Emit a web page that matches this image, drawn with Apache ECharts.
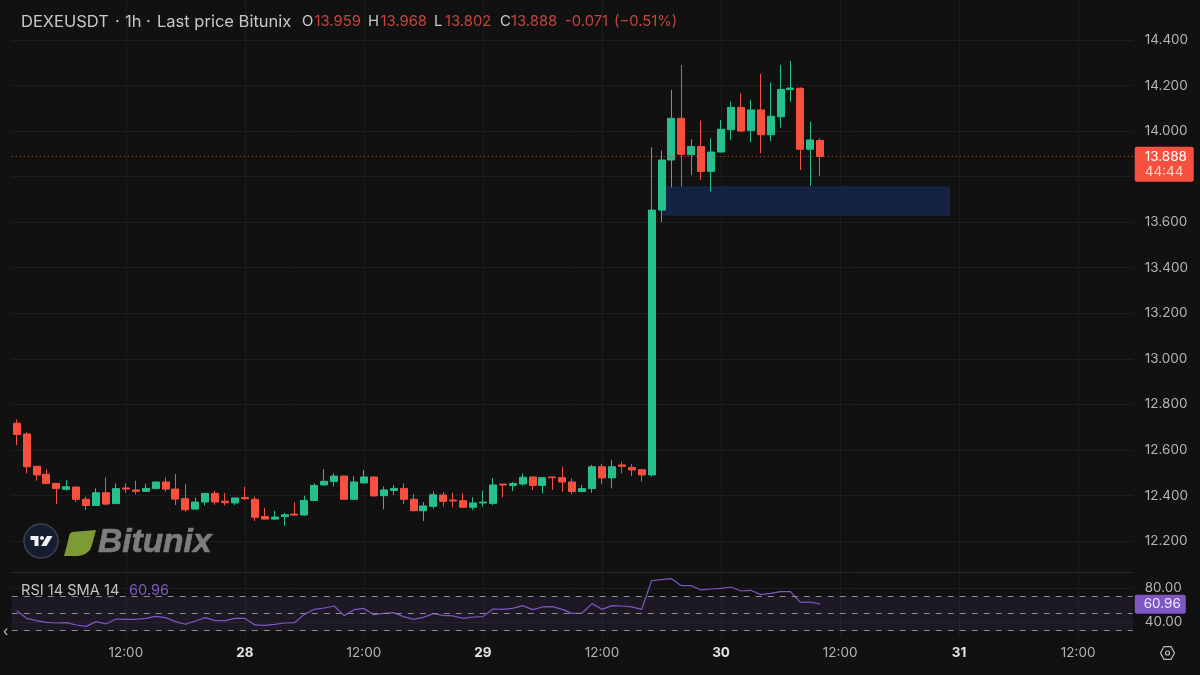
<!DOCTYPE html>
<html><head><meta charset="utf-8">
<style>html,body{margin:0;padding:0;background:#111112}#c{width:1200px;height:675px}</style>
<script src="https://cdn.jsdelivr.net/npm/echarts@6/dist/echarts.min.js"></script>
</head><body><div id="c"></div>
<script>
const opens=[12.717,12.670,12.528,12.493,12.453,12.427,12.437,12.383,12.356,12.412,12.364,12.433,12.424,12.418,12.430,12.459,12.428,12.386,12.340,12.371,12.409,12.375,12.367,12.391,12.383,12.307,12.296,12.307,12.318,12.314,12.378,12.446,12.461,12.485,12.383,12.455,12.481,12.399,12.422,12.431,12.383,12.333,12.352,12.402,12.380,12.377,12.348,12.367,12.365,12.450,12.444,12.450,12.481,12.444,12.481,12.478,12.459,12.417,12.430,12.526,12.477,12.534,12.523,12.513,12.490,13.653,13.873,14.056,13.896,13.932,13.823,13.908,14.006,14.104,14.002,14.093,13.984,14.063,14.183,14.188,13.920,13.959];
const closes=[12.668,12.526,12.490,12.452,12.430,12.438,12.383,12.356,12.412,12.362,12.430,12.428,12.418,12.431,12.459,12.428,12.384,12.337,12.371,12.409,12.371,12.368,12.389,12.386,12.304,12.296,12.305,12.315,12.314,12.378,12.444,12.462,12.485,12.383,12.459,12.481,12.398,12.424,12.431,12.383,12.333,12.354,12.403,12.374,12.376,12.348,12.367,12.371,12.446,12.446,12.452,12.480,12.444,12.478,12.478,12.459,12.417,12.430,12.526,12.477,12.526,12.528,12.512,12.490,13.653,13.873,14.056,13.898,13.932,13.823,13.908,14.008,14.104,14.000,14.093,13.984,14.065,14.183,14.189,13.920,13.961,13.888];
const highs=[12.734,12.677,12.529,12.515,12.453,12.468,12.438,12.394,12.431,12.479,12.453,12.453,12.465,12.452,12.460,12.479,12.494,12.450,12.391,12.411,12.421,12.411,12.391,12.438,12.394,12.346,12.333,12.324,12.370,12.399,12.453,12.515,12.497,12.487,12.485,12.512,12.482,12.439,12.446,12.453,12.406,12.371,12.418,12.415,12.412,12.409,12.392,12.421,12.477,12.450,12.459,12.497,12.482,12.482,12.482,12.526,12.475,12.446,12.534,12.538,12.556,12.548,12.538,12.515,13.929,13.914,14.180,14.290,13.964,14.046,13.968,14.049,14.129,14.166,14.137,14.251,14.214,14.290,14.308,14.192,14.041,13.968];
const lows=[12.621,12.497,12.465,12.450,12.362,12.421,12.372,12.336,12.355,12.356,12.362,12.412,12.405,12.415,12.428,12.416,12.358,12.329,12.339,12.356,12.359,12.356,12.358,12.380,12.288,12.295,12.293,12.267,12.311,12.312,12.377,12.444,12.439,12.381,12.381,12.453,12.395,12.339,12.402,12.362,12.330,12.288,12.342,12.351,12.348,12.346,12.336,12.351,12.357,12.392,12.419,12.443,12.424,12.409,12.424,12.417,12.406,12.415,12.412,12.450,12.431,12.497,12.485,12.462,12.482,13.601,13.753,13.756,13.807,13.785,13.735,13.907,13.961,13.997,13.951,13.902,13.956,14.015,14.129,13.829,13.759,13.802];
const rsiValues=[53.3,44.3,41.6,39.6,38.8,39.2,36.5,34.9,40.4,37.7,43.5,43.1,43.1,44.3,46.7,45.1,40.4,37.3,41.2,45.1,41.6,41.6,44.3,44.3,36.5,36.0,37.3,38.8,39.2,49.0,54.9,56.5,58.8,47.5,54.5,56.0,48.6,50.2,51.0,46.3,43.1,45.5,49.8,47.8,47.1,44.3,45.9,46.3,55.3,54.9,56.0,59.2,54.5,57.7,58.1,54.9,50.2,50.6,61.6,54.9,59.2,58.8,57.7,54.9,88.6,89.8,91.0,82.7,82.7,77.7,78.8,79.6,81.2,76.5,77.3,72.2,73.7,75.7,75.7,63.1,63.5,60.96];
const priceTicks=[12.2,12.4,12.6,12.8,13.0,13.2,13.4,13.6,13.8,14.0,14.2,14.4];
const rsiTicks=[40,80];
const rsiBands=[70,50,30];
const zoneLow=13.631, zoneHigh=13.754, zoneFrom=65, zoneTo=94;
const lastPrice=13.888, countdown='44:44', lastRsi=60.96;

const categories=[];
for(let i=0;i<113;i++){const t=i+1;const day=27+Math.floor(t/24);const hour=t%24;categories.push(day+' '+String(hour).padStart(2,'0')+':00');}
const isTick=i=>{const h=categories[i].slice(-5);return h==='00:00'||h==='12:00';};
const fmtX=(v)=>{const h=v.slice(-5);return h==='12:00'?'12:00':'{d|'+v.slice(0,2)+'}';};

const BG='#111112',GRID='#1d1d1e',UP='#25c08d',DOWN='#f7503f',TXT='#b4b4b4',PUR='#7e57c2';
const FONT='Inter, Roboto, sans-serif';
const cLeft=11.74,cWidth=1121;
const candle=opens.map((o,i)=>[o,closes[i],lows[i],highs[i]]);

const hdrY=22;
const hdr=(x,t,c,s)=>({type:'text',x:x,y:hdrY,style:{text:t,fill:c,font:'400 '+(s||14.8)+'px '+FONT,textVerticalAlign:'middle'},z:50});
const DIM='#c4473a',HT='#c9c9c9';
const chart=echarts.init(document.getElementById('c'),null,{renderer:'canvas'});
chart.setOption({
 animation:false,backgroundColor:BG,
 grid:[{left:cLeft,width:cWidth,top:0,height:572},{left:cLeft,width:cWidth,top:573,height:64}],
 xAxis:[
  {type:'category',gridIndex:0,data:categories,boundaryGap:true,axisLine:{show:true,onZero:false,lineStyle:{color:'#2b2b2d'}},axisTick:{show:false},axisLabel:{show:false},
   splitLine:{show:true,alignWithLabel:true,interval:i=>isTick(i),lineStyle:{color:GRID,width:1}}},
  {type:'category',gridIndex:1,data:categories,boundaryGap:true,axisLine:{show:false},axisTick:{show:false},
   axisLabel:{show:true,interval:i=>isTick(i),formatter:fmtX,color:TXT,fontFamily:FONT,fontSize:13.5,margin:9,hideOverlap:false,rich:{d:{color:'#e2e2e2',fontFamily:FONT,fontSize:13.5,fontWeight:'bold'}}},
   splitLine:{show:true,alignWithLabel:true,interval:i=>isTick(i),lineStyle:{color:GRID,width:1}}}
 ],
 yAxis:[
  {type:'value',gridIndex:0,position:'right',min:12.0638,max:14.5756,axisLine:{show:false},
   axisTick:{show:false,customValues:priceTicks},
   axisLabel:{customValues:priceTicks,formatter:v=>v.toFixed(3),color:TXT,fontFamily:FONT,fontSize:13.5,margin:12,padding:[5,0,0,0]},
   splitLine:{show:true,lineStyle:{color:GRID,width:1}}},
  {type:'value',gridIndex:1,position:'right',min:22.35,max:97.65,axisLine:{show:false},
   axisTick:{show:false,customValues:rsiTicks},
   axisLabel:{customValues:rsiTicks,formatter:v=>v.toFixed(2),color:TXT,fontFamily:FONT,fontSize:13.5,margin:12,padding:[5,0,0,0]},
   splitLine:{show:true,lineStyle:{color:GRID,width:1}}}
 ],
 series:[
  {type:'candlestick',xAxisIndex:0,yAxisIndex:0,data:candle,barWidth:7.5,
   itemStyle:{color:UP,color0:DOWN,borderColor:UP,borderColor0:DOWN,borderColorDoji:DOWN,borderWidth:1},
   markArea:{silent:true,itemStyle:{color:'#162241',borderColor:'#1b2a52',borderWidth:1},
     data:[[{xAxis:zoneFrom,yAxis:zoneHigh},{xAxis:zoneTo,yAxis:zoneLow}]]},
   markLine:{silent:true,symbol:'none',animation:false,
     lineStyle:{color:'#c94f3e',type:[1,3],width:1},
     data:[{yAxis:lastPrice}],
     label:{show:true,position:'end',distance:0,offset:[2,8],formatter:'{a|'+lastPrice.toFixed(3)+'}\n{b|'+countdown+'}',
       backgroundColor:'#f7503f',padding:[3,7,2,10],borderRadius:2,
       rich:{a:{color:'#fff',fontFamily:FONT,fontSize:13.5,lineHeight:15,width:42},b:{color:'#ffd6cf',fontFamily:FONT,fontSize:13.5,lineHeight:15,width:42}}}}
  },
  {type:'line',xAxisIndex:1,yAxisIndex:1,data:rsiValues,showSymbol:false,lineStyle:{color:PUR,width:1.2},itemStyle:{color:PUR},
   markArea:{silent:true,itemStyle:{color:'rgba(126,87,194,0.10)'},data:[[{yAxis:rsiBands[0]},{yAxis:rsiBands[2]}]]},
   markLine:{silent:true,symbol:'none',animation:false,
     data:[
       ...rsiBands.map(b=>({yAxis:b,lineStyle:{color:'#8b8b8f',type:[6,6],width:1},label:{show:false}})),
       {yAxis:lastRsi,lineStyle:{color:'rgba(0,0,0,0)',width:1},label:{show:true,position:'end',distance:0,offset:[2,0],formatter:lastRsi.toFixed(2),color:'#f0ebfa',fontFamily:FONT,fontSize:13.5,backgroundColor:'#7e57c2',padding:[3,5,2,9],borderRadius:2}}
     ]}
  }
 ],
 graphic:[
  hdr(21,'DEXEUSDT',HT,16.5),hdr(115,'·',HT,16.5),hdr(125,'1h',HT,16.5),hdr(146,'·',HT,16.5),hdr(157,'Last price Bitunix',HT,16.5),
  hdr(302,'O',HT),hdr(314.5,'13.959',DIM),
  hdr(368,'H',HT),hdr(380.5,'13.968',DIM),
  hdr(434,'L',HT),hdr(445,'13.802',DIM),
  hdr(500,'C',HT),hdr(511,'13.888',DIM),
  hdr(565,'-0.071',DIM),hdr(614,'(−0.51%)',DIM),
  {type:'text',x:21,y:591,z:50,style:{text:'RSI 14 SMA 14',fill:'#c4c4c4',font:'400 14.6px '+FONT,textVerticalAlign:'middle'}},
  {type:'text',x:129,y:591,z:50,style:{text:'60.96',fill:PUR,font:'400 14.6px '+FONT,textVerticalAlign:'middle'}},
  {type:'text',x:3,y:632,z:50,style:{text:'‹',fill:'#c4c4c4',font:'400 14px '+FONT,textVerticalAlign:'middle'}},
  {type:'circle',z:40,shape:{cx:41,cy:541,r:17},style:{fill:'#161d30',stroke:'#3d4150',lineWidth:1.5}},
  {type:'polygon',z:41,shape:{points:[[30.5,536],[38.5,536],[38.5,546],[34.5,546],[34.5,540],[30.5,540]]},style:{fill:'#f2f2f2'}},
  {type:'circle',z:41,shape:{cx:42,cy:538,r:2},style:{fill:'#f2f2f2'}},
  {type:'polygon',z:41,shape:{points:[[47,536],[52.5,536],[46.5,546],[41,546]]},style:{fill:'#f2f2f2'}},
  {type:'polygon',z:40,shape:{points:[[72,532],[78,531.4],[96,530],[92,545],[90,550],[86,553.5],[82,555.3],[78,556],[64,556],[68,541],[69,536],[70,533.5]]},style:{fill:'#7d9b34'}},
  {type:'text',x:98,y:543,z:40,style:{text:'Bitunix',fill:'#7d7d7f',stroke:'#7d7d7f',lineWidth:0.7,font:'italic 700 33.5px "Liberation Sans", sans-serif',textVerticalAlign:'middle'}},
  {type:'polygon',z:40,shape:{points:[[1160.5,653],[1164,646.7],[1171,646.7],[1174.5,653],[1171,659.3],[1164,659.3]]},style:{fill:'none',stroke:'#bdbdbd',lineWidth:1.2}},
  {type:'circle',z:40,shape:{cx:1167.5,cy:653,r:2},style:{fill:'none',stroke:'#bdbdbd',lineWidth:1.2}}
 ]
});
</script></body></html>
